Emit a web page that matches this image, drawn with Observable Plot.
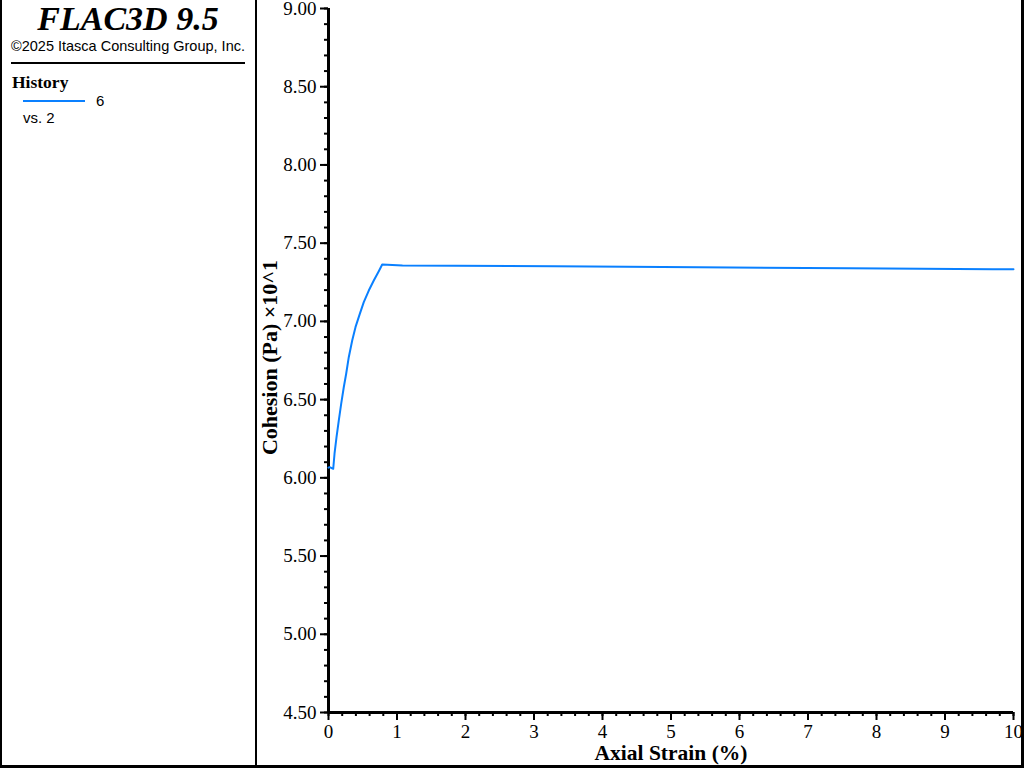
<!DOCTYPE html>
<html>
<head>
<meta charset="utf-8">
<script src="https://cdn.jsdelivr.net/npm/d3@7"></script>
<script src="https://cdn.jsdelivr.net/npm/@observablehq/plot@0.6"></script>
<style>
  html, body { margin: 0; padding: 0; background: #fff; }
  #chart { position: absolute; left: 0; top: 0; width: 1024px; height: 768px; }
</style>
</head>
<body>
<div id="chart"></div>
<script>
// Data
const strain = [0, 0.015, 0.069, 0.088, 0.117, 0.150, 0.185, 0.223, 0.258, 0.296, 0.346, 0.394, 0.457, 0.515, 0.588, 0.661, 0.734, 0.784, 1.08, 3.3, 5.4, 7.6, 9.7, 10];
const cohesion = [6.065, 6.068, 6.058, 6.154, 6.260, 6.366, 6.473, 6.579, 6.665, 6.771, 6.878, 6.963, 7.048, 7.123, 7.197, 7.261, 7.321, 7.364, 7.358, 7.352, 7.346, 7.340, 7.334, 7.333];
const xMajorTicks = [0, 1, 2, 3, 4, 5, 6, 7, 8, 9, 10];
const xMinorTicks = d3.range(0, 51).map(i => i / 5);
const yMajorTicks = [4.5, 5.0, 5.5, 6.0, 6.5, 7.0, 7.5, 8.0, 8.5, 9.0];
const yMinorTicks = d3.range(45, 91).map(i => i / 10);
const xLabel = "Axial Strain (%)";
const yLabel = "Cohesion (Pa) ×10^1";
const titleText = "FLAC3D 9.5";
const copyrightText = "©2025 Itasca Consulting Group, Inc.";
const legendTitle = "History";
const seriesName = "6";
const seriesVs = "vs. 2";
const lineColor = "#0a80ff";

const data = strain.map((s, i) => ({strain: s, cohesion: cohesion[i]}));

const chart = Plot.plot({
  width: 1024,
  height: 768,
  marginLeft: 328,
  marginRight: 11,
  marginTop: 8,
  marginBottom: 56,
  style: {fontFamily: "'Liberation Serif', 'Times New Roman', serif", fontSize: "19px", color: "#000", background: "#fff", overflow: "visible"},
  x: {domain: [0, 10]},
  y: {domain: [4.5, 9]},
  marks: [
    Plot.axisY(yMinorTicks, {tickSize: 4, tickFormat: () => "", strokeWidth: 2, label: null}),
    Plot.axisY(yMajorTicks, {tickSize: 8, tickPadding: 4, strokeWidth: 2, tickFormat: d => d.toFixed(2), fontSize: 19, label: null}),
    Plot.axisX(xMinorTicks, {tickSize: 4, tickFormat: () => "", strokeWidth: 2, label: null}),
    Plot.axisX(xMajorTicks, {tickSize: 8, tickPadding: 4, strokeWidth: 2, tickFormat: d => String(d), fontSize: 19, label: null}),
    Plot.ruleX([0], {strokeWidth: 3}),
    Plot.ruleY([4.5], {strokeWidth: 3}),
    Plot.line(data, {x: "strain", y: "cohesion", stroke: lineColor, strokeWidth: 2}),
    Plot.text([xLabel], {frameAnchor: "bottom", lineAnchor: "middle", textAnchor: "middle", dy: 41, fontWeight: "bold", fontSize: 21.5}),
    Plot.text([yLabel], {frameAnchor: "left", lineAnchor: "middle", textAnchor: "middle", rotate: -90, dx: -59, dy: -3, fontWeight: "bold", fontSize: 22})
  ]
});

document.getElementById("chart").appendChild(chart);

// Frame and legend panel
const svg = d3.select(chart);
const g = svg.append("g").attr("text-anchor", "start");
g.append("rect").attr("x", 0).attr("y", 0).attr("width", 2).attr("height", 768).attr("fill", "#000");
g.append("rect").attr("x", 1021).attr("y", 0).attr("width", 3).attr("height", 768).attr("fill", "#000");
g.append("rect").attr("x", 0).attr("y", 765).attr("width", 1024).attr("height", 3).attr("fill", "#000");
g.append("rect").attr("x", 255).attr("y", 0).attr("width", 2).attr("height", 768).attr("fill", "#000");

g.append("text").attr("x", 128).attr("y", 30).attr("text-anchor", "middle")
  .attr("font-family", "'Liberation Serif', serif").attr("font-weight", "bold").attr("font-style", "italic")
  .attr("font-size", 34).attr("fill", "#000").text(titleText);
g.append("text").attr("x", 128).attr("y", 51).attr("text-anchor", "middle")
  .attr("font-family", "'Liberation Sans', Arial, sans-serif").attr("font-size", 14.5).attr("fill", "#000").text(copyrightText);
g.append("rect").attr("x", 11).attr("y", 62).attr("width", 234).attr("height", 2).attr("fill", "#000");
g.append("text").attr("x", 12).attr("y", 88).attr("text-anchor", "start")
  .attr("font-family", "'Liberation Serif', serif").attr("font-weight", "bold").attr("font-size", 17.5).attr("fill", "#000").text(legendTitle);
g.append("rect").attr("x", 23).attr("y", 100).attr("width", 62).attr("height", 2).attr("fill", lineColor);
g.append("text").attr("x", 96).attr("y", 106).attr("text-anchor", "start")
  .attr("font-family", "'Liberation Sans', Arial, sans-serif").attr("font-size", 15).attr("fill", "#000").text(seriesName);
g.append("text").attr("x", 23).attr("y", 123).attr("text-anchor", "start")
  .attr("font-family", "'Liberation Sans', Arial, sans-serif").attr("font-size", 15).attr("fill", "#000").text(seriesVs);
</script>
</body>
</html>
